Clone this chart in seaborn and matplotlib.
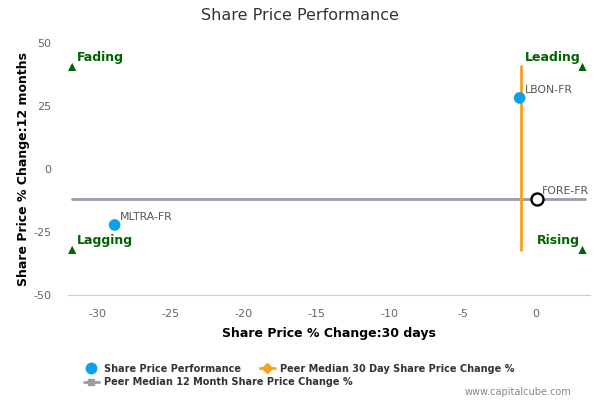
import matplotlib
matplotlib.use("Agg")
import matplotlib.pyplot as plt
import seaborn as sns
import pandas as pd
from matplotlib.lines import Line2D

# data
tickers = ["MLTRA-FR", "LBON-FR", "FORE-FR"]
chg_30d = [-28.8, -1.1, 0.1]
chg_12m = [-22.2, 28.2, -11.9]
highlight = [False, False, True]

peer_median_30d = -1.0
peer_median_12m = -12.1
peer_30d_span = [-32.1, 40.9]
peer_12m_span = [-31.7, 3.4]

quad_names = ["Fading", "Leading", "Lagging", "Rising"]
quad_x = [-31.7, 3.2, -31.7, 3.2]
quad_y = [40.5, 40.5, -32.1, -32.1]

df = pd.DataFrame({"ticker": tickers, "x": chg_30d, "y": chg_12m, "hl": highlight})

sns.set_style("white")
plt.rcParams["font.family"] = ["DejaVu Sans"]
plt.rcParams["axes.unicode_minus"] = False

fig = plt.figure(figsize=(6, 4), dpi=100)
ax = fig.add_axes([0.113, 0.2625, 0.87, 0.63])

# peer median lines
ax.plot(peer_12m_span, [peer_median_12m] * 2, color="#9a9ca8", lw=2, zorder=2)
ax.plot([peer_median_30d] * 2, peer_30d_span, color="#f7a21b", lw=2, zorder=2)

sns.scatterplot(data=df[~df.hl], x="x", y="y", s=70, color="#0aa0ee",
                edgecolor="none", ax=ax, zorder=3)
sns.scatterplot(data=df[df.hl], x="x", y="y", s=75, facecolor="white",
                edgecolor="black", linewidth=1.7, ax=ax, zorder=4)

for t, x, y in zip(tickers, chg_30d, chg_12m):
    ax.text(x + 0.35, y + 1.8, t, fontsize=7.8, color="#555555", zorder=5)

sns.scatterplot(x=quad_x, y=quad_y, marker="^", s=35, color="#006400",
                edgecolor="none", ax=ax, zorder=3)
for name, x, y in zip(quad_names, quad_x, quad_y):
    ha = "left" if x < 0 else "right"
    ax.text(x + (0.3 if x < 0 else -0.15), y + 1.3, name, fontsize=9,
            fontweight="bold", color="#006400", ha=ha, va="bottom")

ax.set_xlim(-32, 3.7)
ax.set_ylim(-50, 50)
ax.set_xticks([-30, -25, -20, -15, -10, -5, 0])
ax.set_yticks([-50, -25, 0, 25, 50])
ax.tick_params(axis="both", labelsize=8, colors="#666666")
ax.tick_params(axis="x", length=6.5, color="#c0d0e0", width=1)
ax.tick_params(axis="y", length=0, pad=12)
for s in ["top", "right", "left"]:
    ax.spines[s].set_visible(False)
ax.spines["bottom"].set_color("#c0d0e0")

ax.set_xlabel("Share Price % Change:30 days", fontsize=9, fontweight="bold",
              color="black", labelpad=6)
ax.set_ylabel("Share Price % Change:12 months", fontsize=9, fontweight="bold",
              color="black", labelpad=2)
fig.text(0.5, 0.96, "Share Price Performance", ha="center", va="center",
         fontsize=11.5, color="#333333")

handles = [
    Line2D([], [], marker="o", ls="none", color="#0aa0ee", markersize=7.5),
    Line2D([], [], marker="D", color="#f7a21b", lw=2, markersize=5),
    Line2D([], [], marker="s", color="#9a9ca8", lw=2, markersize=5),
]
labels = ["Share Price Performance", "Peer Median 30 Day Share Price Change %",
          "Peer Median 12 Month Share Price Change %"]
leg = fig.legend(handles[:2], labels[:2], loc="upper left",
                 bbox_to_anchor=(0.132, 0.103), ncol=2, frameon=False,
                 prop={"size": 7, "weight": "bold"}, handlelength=1.5,
                 columnspacing=1.9, borderpad=0, handletextpad=0.6)
leg2 = fig.legend(handles[2:], labels[2:], loc="upper left",
                  bbox_to_anchor=(0.132, 0.069), frameon=False,
                  prop={"size": 7, "weight": "bold"}, handlelength=1.5,
                  borderpad=0, handletextpad=0.6)
for t in leg.get_texts() + leg2.get_texts():
    t.set_color("#333333")

fig.text(0.953, 0.02, "www.capitalcube.com", ha="right", va="center",
         fontsize=7, color="#888888")

fig.savefig("out.png", dpi=100)
